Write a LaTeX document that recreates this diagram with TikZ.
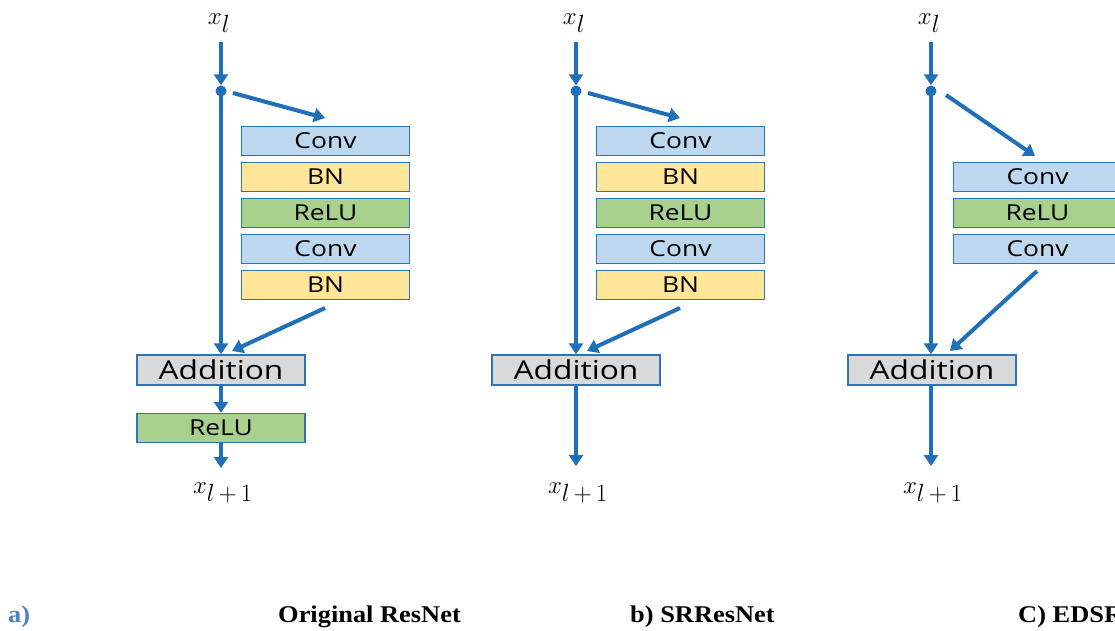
\documentclass[tikz,border=0pt]{standalone}
\usepackage{fontspec}
\setmainfont{Liberation Serif}
\newfontfamily\boxfont{Open Sans}
\usetikzlibrary{arrows.meta}
\DeclareMathSizes{32}{32}{25}{20}
\definecolor{lineblue}{RGB}{31,112,184}
\definecolor{edgeblue}{RGB}{46,117,182}
\definecolor{convfill}{RGB}{189,215,238}
\definecolor{bnfill}{RGB}{255,230,153}
\definecolor{relufill}{RGB}{169,209,142}
\definecolor{addfill}{RGB}{217,217,217}
\definecolor{capblue}{RGB}{79,129,189}
\newcommand{\widetxt}[2][1.2]{\scalebox{#1}[1]{#2}}
\tikzset{
  layer/.style={draw=edgeblue, line width=1.5pt, minimum width=168pt, minimum height=29pt, inner sep=0pt, font=\boxfont\fontsize{22}{24}\selectfont},
  conv/.style={layer, fill=convfill},
  bn/.style={layer, fill=bnfill},
  relu/.style={layer, fill=relufill},
  addbox/.style={draw=edgeblue, line width=1.5pt, fill=addfill, minimum width=168pt, minimum height=30pt, inner sep=0pt, font=\boxfont\fontsize{26}{28}\selectfont},
  reluout/.style={relu},
  conn/.style={draw=lineblue, line width=4pt, -{Triangle[width=14pt,length=11pt]}},
  junction/.style={circle, fill=lineblue, inner sep=0pt, minimum size=11pt},
  var/.style={font=\fontsize{32}{36}\selectfont, inner sep=0pt, anchor=base},
  captext/.style={font=\bfseries\fontsize{24}{26}\selectfont, inner sep=0pt, anchor=base west, xscale=1.1},
}
\newcommand{\xl}{$x_{l}$}
\newcommand{\xlp}{$x_{l\mkern3mu+\mkern3mu1}$}
\begin{document}
\begin{tikzpicture}[x=1pt,y=-1pt]
\useasboundingbox (0,0) rectangle (1115,630);
\clip (0,0) rectangle (1115,630);
\fill[white] (0,0) rectangle (1115,630);

% ---------- panel a ----------
\node[var] (xa) at (219,24) {\xl};
\node[junction] (da) at (221,91) {};
\node[conv] (a1) at (325.5,141) {\widetxt{Conv}};
\node[bn]   (a2) at (325.5,177) {\widetxt{BN}};
\node[relu] (a3) at (325.5,213) {\widetxt{ReLU}};
\node[conv] (a4) at (325.5,249) {\widetxt{Conv}};
\node[bn]   (a5) at (325.5,285) {\widetxt{BN}};
\node[addbox] (aadd) at (221,370) {\widetxt[1.22]{Addition}};
\node[reluout] (arelu) at (221,428) {\widetxt{ReLU}};
\node[var] (xa2) at (223,493) {\xlp};
\coordinate (aa1) at (233,93);
\coordinate (aa2) at (325,118);
\coordinate (ab1) at (325,308);
\coordinate (ab2) at (232,351);
\draw[conn] (221,42) -- (da.north);
\draw[conn] (da.center) -- (aadd.north -| da);
\draw[conn] (aa1) -- (aa2);
\draw[conn] (ab1) -- (ab2);
\draw[conn] (aadd.south) -- (arelu.north);
\draw[conn] (arelu.south) -- (arelu.south |- 0,468) coordinate (ea);

% ---------- panel b ----------
\node[var] (xb) at (574,24) {\xl};
\node[junction] (db) at (576,91) {};
\node[conv] (b1) at (680.5,141) {\widetxt{Conv}};
\node[bn]   (b2) at (680.5,177) {\widetxt{BN}};
\node[relu] (b3) at (680.5,213) {\widetxt{ReLU}};
\node[conv] (b4) at (680.5,249) {\widetxt{Conv}};
\node[bn]   (b5) at (680.5,285) {\widetxt{BN}};
\node[addbox] (badd) at (576,370) {\widetxt[1.22]{Addition}};
\node[var] (xb2) at (578,493) {\xlp};
\coordinate (ba1) at (588,93);
\coordinate (ba2) at (680,118);
\coordinate (bb1) at (680,308);
\coordinate (bb2) at (587,351);
\draw[conn] (576,42) -- (db.north);
\draw[conn] (db.center) -- (badd.north -| db);
\draw[conn] (ba1) -- (ba2);
\draw[conn] (bb1) -- (bb2);
\draw[conn] (badd.south) -- (badd.south |- 0,466) coordinate (eb);

% ---------- panel c ----------
\node[var] (xc) at (929,24) {\xl};
\node[junction] (dc) at (931,91) {};
\node[conv] (c1) at (1037.5,177) {\widetxt{Conv}};
\node[relu] (c2) at (1037.5,213) {\widetxt{ReLU}};
\node[conv] (c3) at (1037.5,249) {\widetxt{Conv}};
\node[addbox] (cadd) at (932,370) {\widetxt[1.22]{Addition}};
\node[var] (xc2) at (933,493) {\xlp};
\coordinate (ca1) at (946,95);
\coordinate (ca2) at (1035,156);
\coordinate (cb1) at (1037,271);
\coordinate (cb2) at (950,351);
\draw[conn] (931,42) -- (dc.north);
\draw[conn] (dc.center) -- (cadd.north -| dc);
\draw[conn] (ca1) -- (ca2);
\draw[conn] (cb1) -- (cb2);
\draw[conn] (cadd.south -| dc) -- (dc |- 0,466) coordinate (ec);

% ---------- captions ----------
\node[captext, text=capblue] (capa) at (8,622) {a)};
\node[captext] (capo) at (278,622) {Original ResNet};
\node[captext] (capb) at (630,622) {b) SRResNet};
\node[captext] (capc) at (1018,622) {C) EDSR};
\end{tikzpicture}
\end{document}
